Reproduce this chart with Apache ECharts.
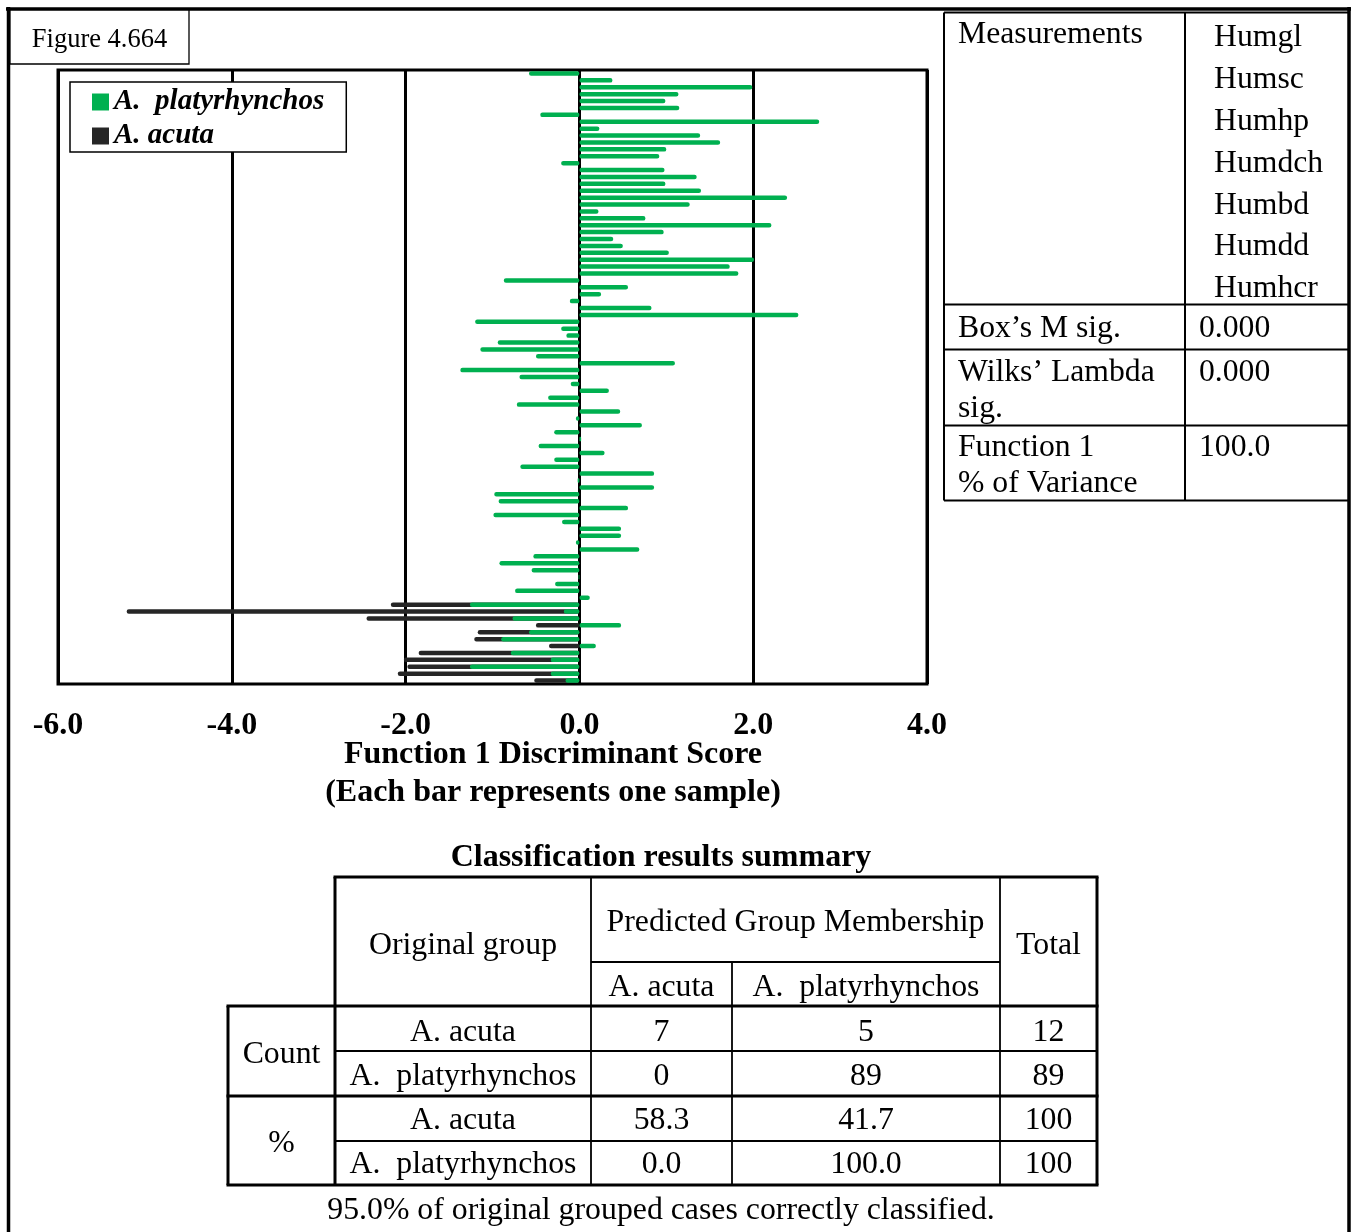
<!DOCTYPE html>
<html>
<head>
<meta charset="utf-8">
<script src="https://cdn.jsdelivr.net/npm/echarts@6/dist/echarts.min.js"></script>
<style>
html,body{margin:0;padding:0;background:#fff;}
#chart{width:1357px;height:1232px;}
</style>
</head>
<body>
<div id="chart"></div>
<script>
// ---------- data ----------
const seriesNames = ['A.  platyrhynchos', 'A. acuta'];
const platyScores = [
  -0.58, 0.38, 1.99, 1.14, 0.99, 1.15, -0.45, 2.76, 0.23, 1.39,
  1.62, 1.00, 0.92, -0.21, 0.98, 1.35, 0.99, 1.40, 2.39, 1.27,
  0.22, 0.76, 2.21, 0.97, 0.39, 0.50, 1.03, 2.01, 1.73, 1.83,
  -0.87, 0.56, 0.25, -0.11, 0.83, 2.52, -1.20, -0.21, -0.15, -0.94,
  -1.14, -0.50, 1.10, -1.37, -0.69, -0.10, 0.34, -0.36, -0.72, 0.47,
  -0.04, 0.72, -0.29, 0.02, -0.47, 0.29, -0.29, -0.68, 0.86, -0.02,
  0.86, -0.98, -0.93, 0.56, -0.99, -0.20, 0.48, 0.48, -0.04, 0.69,
  -0.53, -0.92, -0.55, -0.01, -0.28, -0.74, 0.12, -1.26, -0.18, -0.77,
  0.48, -0.58, -0.90, 0.19, -0.79, -0.33, -1.26, -0.33, -0.16
];
const acutaStartRow = 77; // acuta samples occupy the last 12 rows
const acutaScores = [-2.17, -5.21, -2.45, -0.50, -1.17, -1.21, -0.35, -1.85, -2.02, -1.98, -2.09, -0.52];
const sampleIds = platyScores.map((v, i) => 'S' + (i + 1));
const tickLabels = ['-6.0', '-4.0', '-2.0', '0.0', '2.0', '4.0'];
const axisTitle = ['Function 1 Discriminant Score', '(Each bar represents one sample)'];
const figureLabel = 'Figure 4.664';

const measurements = ['Humgl', 'Humsc', 'Humhp', 'Humdch', 'Humbd', 'Humdd', 'Humhcr'];
const statRows = [
  ['Box\u2019s M sig.', '0.000'],
  ['Wilks\u2019 Lambda\nsig.', '0.000'],
  ['Function 1\n% of Variance', '100.0']
];
const classTitle = 'Classification results summary';
const classGroups = ['A. acuta', 'A.  platyrhynchos'];
const countRows = [[7, 5, 12], [0, 89, 89]];
const percentRows = [['58.3', '41.7', '100'], ['0.0', '100.0', '100']];
const footnote = '95.0% of original grouped cases correctly classified.';

// ---------- build ----------
const acutaData = sampleIds.map((_, i) => {
  const k = i - acutaStartRow;
  return (k >= 0 && k < acutaScores.length) ? acutaScores[k] : null;
});

const SERIF = '"Liberation Serif", "Times New Roman", serif';
const G = [];
const DY = 2;
function txt(x, y, text, size, opts) {
  opts = opts || {};
  G.push({
    type: 'text', x: x, y: y + DY, z: 100,
    style: {
      text: text, fill: '#000',
      font: (opts.style || 'normal') + ' ' + (opts.weight || 'normal') + ' ' + size + 'px ' + SERIF,
      align: opts.align || 'left', verticalAlign: 'middle',
      lineHeight: opts.lineHeight || size * 1.2
    }
  });
}
function line(x1, y1, x2, y2, w) {
  G.push({ type: 'line', z: 100, shape: { x1, y1, x2, y2 }, style: { stroke: '#000', lineWidth: w } });
}

// page frame
line(6, 9, 1351, 9, 3.5);
line(8.5, 7, 8.5, 1232, 3.5);
line(1349, 7, 1349, 1232, 3.5);

// figure label box
G.push({ type: 'rect', z: 100, shape: { x: 10, y: 10, width: 179, height: 54 }, style: { fill: '#fff', stroke: '#000', lineWidth: 1.3 } });
txt(99.5, 38, figureLabel, 26.5, { align: 'center' });

// axis title
txt(553, 753, axisTitle[0], 32, { weight: 'bold', align: 'center' });
txt(553, 791, axisTitle[1], 32, { weight: 'bold', align: 'center' });

// right stats table
const rtL = 944, rtM = 1185, rtR = 1349;
const rtRows = [12.5, 304.5, 349.5, 425.5, 500.5];
rtRows.forEach(y => line(rtL, y, rtR, y, 2));
line(rtL, 12.5, rtL, 500.5, 2);
line(rtM, 12.5, rtM, 500.5, 2);
txt(958, 33, 'Measurements', 31.7);
measurements.forEach((m, i) => txt(1214, 36 + i * 41.8, m, 31.7));
txt(958, 327, statRows[0][0], 31.7); txt(1199, 327, statRows[0][1], 31.7);
txt(958, 371, 'Wilks\u2019 Lambda', 31.7); txt(958, 407, 'sig.', 31.7); txt(1199, 371, statRows[1][1], 31.7);
txt(958, 446, 'Function 1', 31.7); txt(958, 482, '% of Variance', 31.7); txt(1199, 446, statRows[2][1], 31.7);

// classification table
txt(661, 856, classTitle, 32, { weight: 'bold', align: 'center' });
const cx = [228, 335, 591, 732, 1000, 1097];
const cy = [877, 962, 1006, 1051, 1096, 1141, 1185];
// horizontal lines
line(cx[1] - 1.5, cy[0], cx[5] + 1.5, cy[0], 3);
line(cx[2], cy[1], cx[4], cy[1], 1.8);
line(cx[0] - 1.5, cy[2], cx[5] + 1.5, cy[2], 3);
line(cx[1], cy[3], cx[5], cy[3], 1.8);
line(cx[0] - 1.5, cy[4], cx[5] + 1.5, cy[4], 3);
line(cx[1], cy[5], cx[5], cy[5], 1.8);
line(cx[0] - 1.5, cy[6], cx[5] + 1.5, cy[6], 3);
// vertical lines
line(cx[0], cy[2], cx[0], cy[6], 3);
line(cx[1], cy[0], cx[1], cy[6], 3);
line(cx[2], cy[0], cx[2], cy[6], 1.8);
line(cx[3], cy[1], cx[3], cy[6], 1.8);
line(cx[4], cy[0], cx[4], cy[6], 1.8);
line(cx[5], cy[0], cx[5], cy[6], 3);
const mid = (a, b) => (a + b) / 2;
const FS = 31.8;
txt(mid(cx[1], cx[2]), 944, 'Original group', FS, { align: 'center' });
txt(mid(cx[2], cx[4]), 921, 'Predicted Group Membership', FS, { align: 'center' });
txt(mid(cx[4], cx[5]), 944, 'Total', FS, { align: 'center' });
txt(mid(cx[2], cx[3]), 986, classGroups[0], FS, { align: 'center' });
txt(mid(cx[3], cx[4]), 986, classGroups[1], FS, { align: 'center' });
txt(mid(cx[0], cx[1]), 1053, 'Count', FS, { align: 'center' });
txt(mid(cx[0], cx[1]), 1142, '%', FS, { align: 'center' });
const rowCenters = [1031, 1075, 1119, 1163];
const allRows = countRows.concat(percentRows);
allRows.forEach((r, i) => {
  txt(mid(cx[1], cx[2]), rowCenters[i], classGroups[i % 2], FS, { align: 'center' });
  r.forEach((v, j) => txt(mid(cx[2 + j], cx[3 + j]), rowCenters[i], String(v), FS, { align: 'center' }));
});
txt(661, 1209, footnote, FS, { align: 'center' });

const chart = echarts.init(document.getElementById('chart'), null, { renderer: 'canvas' });
chart.setOption({
  animation: false,
  backgroundColor: '#fff',
  grid: { left: 58, top: 70, width: 869, height: 614, show: true, borderColor: '#000', borderWidth: 3, backgroundColor: 'transparent' },
  legend: {
    data: [seriesNames[0], seriesNames[1]],
    orient: 'vertical', left: 70, top: 82,
    backgroundColor: '#fff', borderColor: '#000', borderWidth: 1.5,
    padding: [5, 22, 1, 22],
    itemWidth: 17, itemHeight: 17, itemGap: 4,
    selectedMode: false,
    icon: 'rect',
    textStyle: { fontFamily: SERIF, fontSize: 29, fontWeight: 'bold', fontStyle: 'italic', color: '#000', lineHeight: 30 }
  },
  xAxis: {
    type: 'value', min: -6, max: 4, interval: 2,
    axisLine: { show: false }, axisTick: { show: false },
    splitLine: { show: true, lineStyle: { color: '#000', width: 3 } },
    axisLabel: {
      margin: 26, color: '#000', fontFamily: SERIF, fontSize: 32, fontWeight: 'bold',
      formatter: (v, i) => tickLabels[i]
    }
  },
  yAxis: {
    type: 'category', data: sampleIds, inverse: true,
    axisLine: { show: false }, axisTick: { show: false }, axisLabel: { show: false }, splitLine: { show: false }
  },
  series: [
    {
      name: seriesNames[1], type: 'bar', data: acutaData, barWidth: 4.5, barGap: '-100%',
      itemStyle: { color: '#262626', borderRadius: 2.2 }
    },
    {
      name: seriesNames[0], type: 'bar', data: platyScores, barWidth: 4.5, barGap: '-100%',
      itemStyle: { color: '#00b050', borderRadius: 2.2 }
    }
  ],
  graphic: G
});
</script>
</body>
</html>
